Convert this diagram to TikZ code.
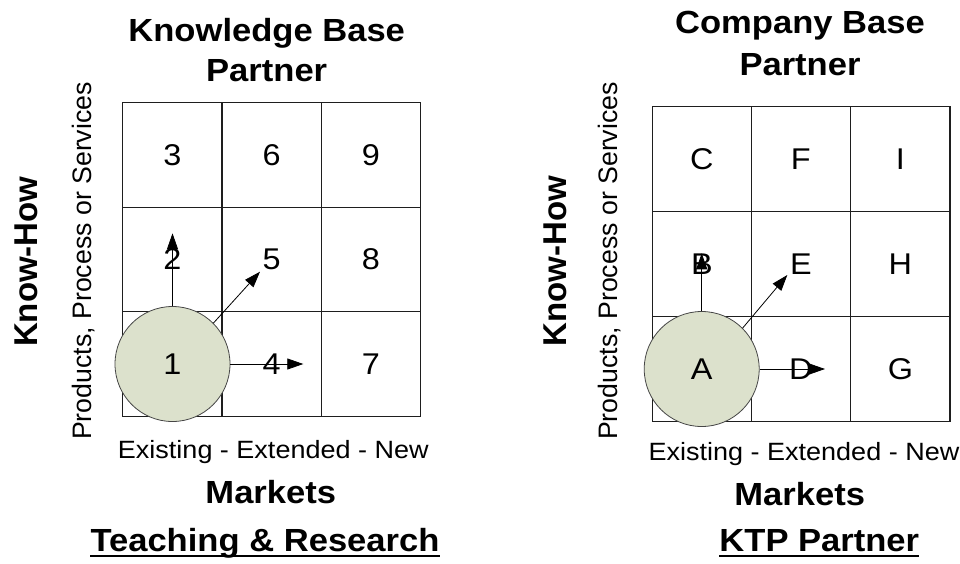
\documentclass[tikz,border=0pt]{standalone}
\usepackage{fontspec}
\setmainfont{Liberation Sans}[FakeStretch=1.08]
\newfontfamily\vfont{Liberation Sans}
\usetikzlibrary{arrows.meta}
\definecolor{circfill}{RGB}{220,225,204}
\definecolor{circline}{RGB}{70,70,70}
\definecolor{gridline}{RGB}{30,30,30}
\tikzset{
  cellbox/.style={draw=gridline, line width=1.1pt, minimum width=99.2pt, minimum height=#1, inner sep=0pt, font=\fontsize{30}{32}\selectfont},
  cellbox/.default=104.8pt,
  bubble/.style={circle, draw=circline, line width=0.8pt, fill=circfill, minimum size=115pt, inner sep=0pt, font=\fontsize{30}{32}\selectfont},
  arr/.style={-{Triangle[length=16pt,width=11pt]}, line width=0.8pt, draw=black},
  titletext/.style={anchor=base, inner sep=0pt, font=\fontsize{32}{36}\selectfont\bfseries},
  axistext/.style={anchor=base, inner sep=0pt, font=\fontsize{25}{28}\selectfont},
  vbold/.style={anchor=base, inner sep=0pt, rotate=90, font=\vfont\fontsize{33}{36}\selectfont\bfseries},
  vreg/.style={anchor=base, inner sep=0pt, rotate=90, font=\vfont\fontsize{26.7}{30}\selectfont},
  uline/.style={line width=2.4pt, draw=black}
}
\begin{document}
\begin{tikzpicture}[x=1pt,y=-1pt]
\useasboundingbox[fill=white] (0,0) rectangle (960,563);

% ---------------- Left grid ----------------
\node[cellbox] (L3) at (172.4,154.7) {3};
\node[cellbox] (L6) at (271.6,154.7) {6};
\node[cellbox] (L9) at (370.8,154.7) {9};
\node[cellbox] (L2) at (172.4,259.5) {2};
\node[cellbox] (L5) at (271.6,259.5) {5};
\node[cellbox] (L8) at (370.8,259.5) {8};
\node[cellbox] (L1c) at (172.4,364.3) {};
\node[cellbox] (L4) at (271.6,364.3) {4};
\node[cellbox] (L7) at (370.8,364.3) {7};

\node[bubble] (L1) at (172.5,364) {1};

\coordinate (L2t) at (172.5,233.3);
\coordinate (L5t) at (260,271.7);
\coordinate (L4t) at (303.3,364);
\draw[arr] (L1.north) -- (L2t);
\draw[arr] (L1.45) -- (L5t);
\draw[arr] (L1.east) -- (L4t);

\node[titletext] (Ltitle1) at (266.7,41.7) {Knowledge Base};
\node[titletext] (Ltitle2) at (266.7,81.7) {Partner};
\node[vbold] (Lknow) at (37.3,261.7) {Know-How};
\node[vreg] (Lprod) at (91.2,261) {Products, Process or Services};
\node[axistext] (Lmk) at (273.3,458.3) {Existing - Extended - New};
\node[titletext] (Lmarkets) at (270.8,503.3) {Markets};
\node[titletext] (Lteach) at (265,551.7) {Teaching \& Research};
\draw[uline] ([yshift=-4.3pt]Lteach.base west) -- ([yshift=-4.3pt]Lteach.base east);

% ---------------- Right grid ----------------
\node[cellbox=105pt] (RC) at (701.85,159.2) {C};
\node[cellbox=105pt] (RF) at (800.85,159.2) {F};
\node[cellbox=105pt] (RI) at (900.35,159.2) {I};
\node[cellbox=105pt] (RB) at (701.85,264.2) {B};
\node[cellbox=105pt] (RE) at (800.85,264.2) {E};
\node[cellbox=105pt] (RH) at (900.35,264.2) {H};
\node[cellbox=105pt] (RAc) at (701.85,369.2) {};
\node[cellbox=105pt] (RD) at (800.85,369.2) {D};
\node[cellbox=105pt] (RG) at (900.35,369.2) {G};

\node[bubble] (RA) at (701.7,369) {A};

\coordinate (RBt) at (701.7,253.3);
\coordinate (REt) at (787.3,275);
\coordinate (RDt) at (825,369);
\draw[arr] (RA.north) -- (RBt);
\draw[arr] (RA.45) -- (REt);
\draw[arr] (RA.east) -- (RDt);

\node[titletext] (Rtitle1) at (800,33) {Company Base};
\node[titletext] (Rtitle2) at (800,75) {Partner};
\node[vbold] (Rknow) at (566.7,261) {Know-How};
\node[vreg] (Rprod) at (617.5,261) {Products, Process or Services};
\node[axistext] (Rmk) at (804,460) {Existing - Extended - New};
\node[titletext] (Rmarkets) at (799.7,505) {Markets};
\node[titletext] (Rktp) at (819.3,551.7) {KTP Partner};
\draw[uline] ([yshift=-4.3pt]Rktp.base west) -- ([yshift=-4.3pt]Rktp.base east);
\end{tikzpicture}
\end{document}
